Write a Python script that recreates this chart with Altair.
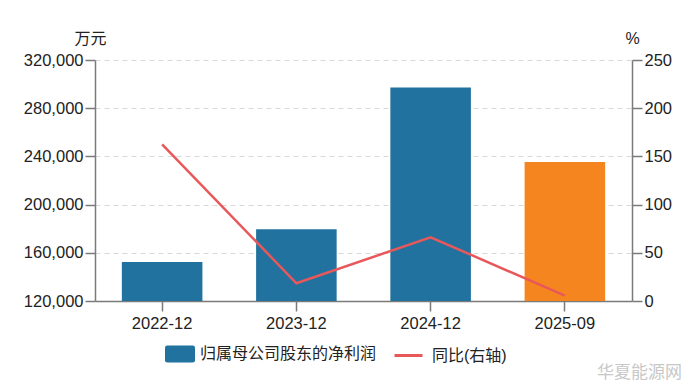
import altair as alt
import pandas as pd

dates = ["2022-12", "2023-12", "2024-12", "2025-09"]
profit = [152400, 179500, 297100, 235400]
yoy = [162.5, 18.4, 66.1, 5.6]
bar_name = "归属母公司股东的净利润"
line_name = "同比(右轴)"

df = pd.DataFrame({"date": dates, "profit": profit, "yoy": yoy,
                   "bar_s": [bar_name] * 4, "line_s": [line_name] * 4})

FONT = "Liberation Sans, Noto Sans CJK SC"
BLUE = "#21729f"
ORANGE = "#f5861f"
RED = "#e8585a"
AX = "#7a7a7a"
LBL = "#222222"

x = alt.X("date:N", title=None,
          scale=alt.Scale(paddingInner=0.4, paddingOuter=0.2),
          axis=alt.Axis(labelAngle=0, tickSize=10, labelPadding=4, domainColor=AX,
                        tickColor=AX, domainWidth=1.5, tickWidth=1.5,
                        labelFont=FONT, labelFontSize=16.5, labelColor=LBL))

rounded = ("M-0.85,-0.567 L0.85,-0.567 Q1,-0.567 1,-0.42 L1,0.42 Q1,0.567 0.85,0.567 "
           "L-0.85,0.567 Q-1,0.567 -1,0.42 L-1,-0.42 Q-1,-0.567 -0.85,-0.567 Z")

bars = alt.Chart(df).mark_bar(clip=True).encode(
    x=x,
    y=alt.Y("profit:Q", scale=alt.Scale(domain=[120000, 320000], nice=False, zero=False),
            axis=alt.Axis(title="万元", titleAngle=0, titleX=-5, titleY=-14,
                          titleAlign="center", titleBaseline="bottom", titleFont=FONT,
                          titleFontWeight="normal", titleFontSize=16, titleColor=LBL,
                          values=[120000, 160000, 200000, 240000, 280000, 320000],
                          labelExpr="format(datum.value, ',')",
                          labelFont=FONT, labelFontSize=16.5, labelColor=LBL,
                          tickSize=10, labelPadding=2,
                          domainColor=AX, tickColor=AX, domainWidth=1.5, tickWidth=1.5,
                          grid=True, gridDash=[5, 4], gridColor="#d9d9d9")),
    fill=alt.condition("datum.date == '2025-09'", alt.value(ORANGE),
                       alt.Fill("bar_s:N", scale=alt.Scale(domain=[bar_name], range=[BLUE]),
                                legend=alt.Legend(orient="none", legendX=70, legendY=279,
                                                  title=None, symbolType=rounded,
                                                  symbolSize=900, symbolStrokeWidth=0,
                                                  labelFontSize=16, labelFont=FONT,
                                                  labelLimit=400,
                                                  labelColor=LBL, padding=0, labelOffset=5))),
)

line = alt.Chart(df).mark_line(strokeWidth=2.5).encode(
    x=x,
    y=alt.Y("yoy:Q", scale=alt.Scale(domain=[0, 250], nice=False),
            axis=alt.Axis(orient="right", title="%", titleAngle=0, titleX=0, titleY=-14,
                          titleAlign="center", titleBaseline="bottom", titleFont=FONT,
                          titleFontWeight="normal", titleFontSize=16, titleColor=LBL,
                          values=[0, 50, 100, 150, 200, 250], tickSize=10, labelPadding=2,
                          labelFont=FONT, labelFontSize=16.5, labelColor=LBL,
                          domainColor=AX, tickColor=AX, domainWidth=1.5, tickWidth=1.5,
                          grid=False)),
    stroke=alt.Stroke("line_s:N", scale=alt.Scale(domain=[line_name], range=[RED]),
                      legend=alt.Legend(orient="none", legendX=298, legendY=280,
                                        title=None, symbolType="stroke", symbolSize=784,
                                        symbolStrokeWidth=3, labelFontSize=16, labelFont=FONT,
                                        labelLimit=400,
                                        labelColor=LBL, padding=0, labelOffset=8)),
)

mark_df = pd.DataFrame({"t": ["华夏能源网"]})
watermark = alt.Chart(mark_df).mark_text(
    font=FONT, fontSize=17, color="#c8c8c8", align="left", baseline="middle"
).encode(x=alt.value(502), y=alt.value(313), text="t:N")

chart = alt.layer(bars, line, watermark).resolve_scale(
    y="independent", fill="independent", stroke="independent"
).properties(
    width=537, height=241,
    background="white",
    autosize=alt.AutoSizeParams(type="none"),
    padding={"left": 87, "top": 52, "right": 60, "bottom": 80},
).configure_view(stroke=None)

chart.save("out.html", embed_options={"renderer": "svg", "actions": False})
